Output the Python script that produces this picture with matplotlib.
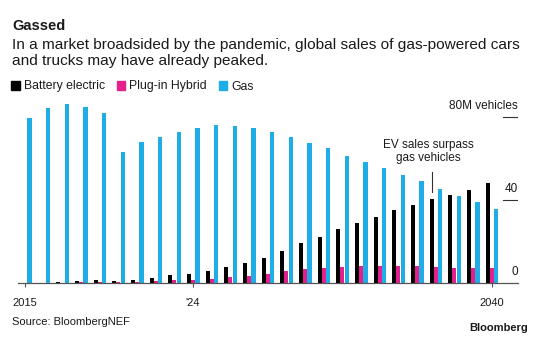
import matplotlib
matplotlib.use("Agg")
from matplotlib import pyplot as plt
from matplotlib.patches import Patch
import numpy as np

plt.rcParams['font.family'] = ['Liberation Sans', 'DejaVu Sans']

# Yearly global sales, million vehicles
years = list(range(2015, 2041))
battery_electric = [0.2, 0.2, 0.4, 0.9, 1.4, 1.0, 1.7, 2.5, 3.8, 4.6, 5.7, 7.7, 9.7, 12.1,
                    15.5, 19.2, 22.4, 25.9, 28.8, 31.7, 35.2, 37.6, 40.3, 42.2, 44.8, 48.0]
plug_in_hybrid = [0.05, 0.1, 0.2, 0.5, 0.4, 0.4, 0.5, 1.0, 1.4, 1.7, 2.2, 2.9, 3.5, 4.6,
                  5.8, 6.7, 7.2, 7.8, 8.3, 8.3, 8.3, 8.3, 7.8, 7.5, 7.2, 7.2]
gas = [79.5, 84.0, 85.9, 84.8, 81.6, 62.9, 67.7, 70.4, 72.8, 74.4, 76.0, 75.7, 74.4, 72.8,
       70.4, 67.2, 64.8, 61.3, 58.4, 55.2, 52.0, 49.1, 45.3, 41.9, 39.2, 35.7]

xtick_years = [2015, 2024, 2040]
xtick_labels = ["2015", "'24", "2040"]
ytick_values = [0, 40, 80]
ytick_labels = ["0", "40", "80M vehicles"]

BLACK = "#000000"
PINK = "#e4208c"
BLUE = "#1fade8"
TEXT = "#1a1a1a"


def main():
    fig = plt.figure(figsize=(5.4, 3.39), dpi=100)
    ax = fig.add_axes([18 / 540, (339 - 283.3) / 339, 500 / 540, (283.3 - 100) / 339])

    x = np.array(years)
    w = 0.22
    ax.bar(x - 0.22, battery_electric, width=w, color=BLACK, linewidth=0)
    ax.bar(x, plug_in_hybrid, width=w, color=PINK, linewidth=0)
    ax.bar(x + 0.24, gas, width=w, color=BLUE, linewidth=0)

    ax.set_xlim(2014.625, 2041.41)
    ax.set_ylim(0, 88)

    for s in ["top", "left", "right"]:
        ax.spines[s].set_visible(False)
    ax.spines["bottom"].set_color("#555555")
    ax.spines["bottom"].set_linewidth(0.9)

    ax.set_xticks(xtick_years)
    ax.set_xticklabels(xtick_labels, fontsize=8, color=TEXT)
    ax.tick_params(axis="x", length=3, width=0.8, color="#555555", pad=7.5)
    ax.set_yticks([])

    # right-hand value labels sitting on short rules
    for v, lab in zip(ytick_values, ytick_labels):
        if v > 0:
            ax.axhline(v, xmin=1 - 15 / 500, xmax=1, color="#333333", lw=0.8)
        ax.annotate(lab, xy=(1, v), xycoords=("axes fraction", "data"),
                    xytext=(0, 3.5), textcoords="offset points",
                    ha="right", va="bottom", fontsize=8.5, color=TEXT)

    # annotation
    ax.plot([2036.8, 2036.8], [43.8, 53.4], color="#333333", lw=0.8)
    ax.text(2036.6, 57.5, "EV sales surpass\ngas vehicles", ha="center", va="bottom",
            fontsize=8.5, color=TEXT, linespacing=1.05)

    # titles
    fig.text(12 / 540, 1 - 25.5 / 339, "Gassed", fontsize=10.5, weight="bold",
             color=TEXT, va="center")
    fig.text(12 / 540, 1 - 37.5 / 339,
             "In a market broadsided by the pandemic, global sales of gas-powered cars\n"
             "and trucks may have already peaked.",
             fontsize=11.1, color=TEXT, va="top", linespacing=1.22)

    handles = [Patch(color=BLACK), Patch(color=PINK), Patch(color=BLUE)]
    fig.legend(handles, ["Battery electric", "Plug-in Hybrid", "Gas"], ncol=3,
               loc="upper left", bbox_to_anchor=(11 / 540, 1 - 80.5 / 339),
               frameon=False, fontsize=8.8, borderpad=0, borderaxespad=0,
               handlelength=0.7, handleheight=0.7, handletextpad=0.35,
               columnspacing=0.95, labelcolor=TEXT)

    fig.text(12 / 540, 1 - 322 / 339, "Source: BloombergNEF", fontsize=8,
             color=TEXT, va="center")
    fig.text(528 / 540, 1 - 328 / 339, "Bloomberg", fontsize=8, weight="bold",
             color=TEXT, va="center", ha="right")

    fig.savefig("out.png", dpi=100)


if __name__ == "__main__":
    main()
